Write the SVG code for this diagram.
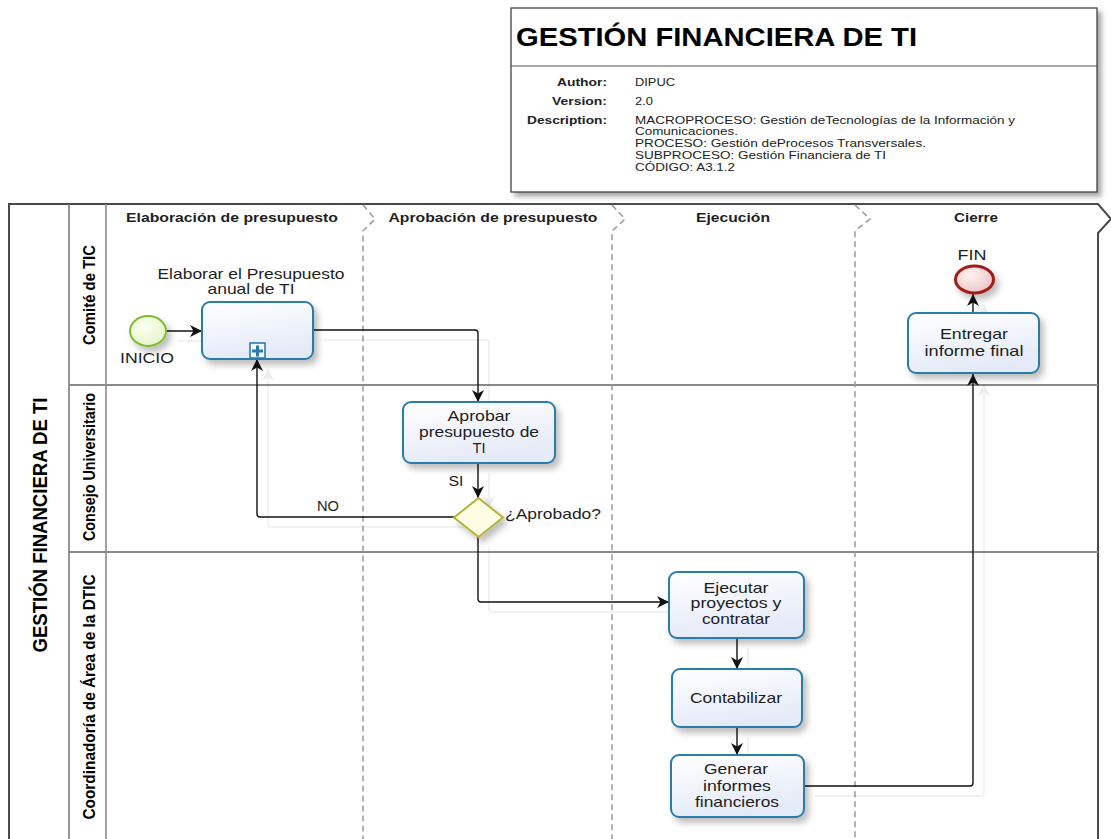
<svg xmlns="http://www.w3.org/2000/svg" xmlns:xlink="http://www.w3.org/1999/xlink" width="1111" height="839" viewBox="0 0 1111 839">
  <style>
    text { font-family: "Liberation Sans", Arial, sans-serif; fill: #1e1e1e; }
    .ttl { font-size: 26px; font-weight: bold; fill: #000; }
    .hk { font-size: 11px; font-weight: bold; fill: #222; text-anchor: end; }
    .hv { font-size: 10.5px; fill: #222; }
    .ph { font-size: 13px; font-weight: bold; text-anchor: middle; }
    .lane { font-size: 16.5px; font-weight: bold; text-anchor: middle; fill: #000; }
    .pool { font-size: 20px; font-weight: bold; text-anchor: middle; fill: #000; }
    .t { font-size: 14.5px; text-anchor: middle; }
    .task { fill: url(#taskFill); stroke: #2b7cab; stroke-width: 2; filter: url(#shadow); }
    .flow { fill: none; stroke: #111; stroke-width: 1.4; marker-end: url(#arrow); }
    .div { fill: none; stroke: #9a9a9a; stroke-width: 1.5; stroke-dasharray: 6 4; }
  </style>
  <defs>
    <linearGradient id="taskFill" x1="0" y1="0" x2="0.3" y2="1">
      <stop offset="0" stop-color="#ffffff"/>
      <stop offset="1" stop-color="#e4eaf8"/>
    </linearGradient>
    <radialGradient id="startFill" cx="0.4" cy="0.35" r="0.7">
      <stop offset="0" stop-color="#fbfff0"/>
      <stop offset="1" stop-color="#e6f3c8"/>
    </radialGradient>
    <radialGradient id="endFill" cx="0.4" cy="0.35" r="0.7">
      <stop offset="0" stop-color="#fdf3f3"/>
      <stop offset="1" stop-color="#efc2c2"/>
    </radialGradient>
    <filter id="shadow" x="-20%" y="-20%" width="150%" height="160%">
      <feDropShadow dx="4" dy="5" stdDeviation="3" flood-color="#000" flood-opacity="0.25"/>
    </filter>
    <filter id="boxShadow" x="-5%" y="-10%" width="115%" height="130%">
      <feDropShadow dx="4" dy="4" stdDeviation="2.5" flood-color="#000" flood-opacity="0.35"/>
    </filter>
    <marker id="arrow" markerUnits="userSpaceOnUse" markerWidth="13" markerHeight="12" refX="12" refY="6" orient="auto">
      <path d="M0,0 L12,6 L0,12 L3.5,6 z" fill="#111"/>
    </marker>
  </defs>

  <!-- document header -->
  <g id="header">
    <rect x="511" y="8" width="586" height="184" fill="#fff" stroke="#333" stroke-width="1.2" filter="url(#boxShadow)"/>
    <line x1="511" y1="66" x2="1097" y2="66" stroke="#555" stroke-width="1.2"/>
    <text class="ttl" x="516" y="46" textLength="401" lengthAdjust="spacingAndGlyphs">GESTIÓN FINANCIERA DE TI</text>
    <text class="hk" x="607" y="86" textLength="50" lengthAdjust="spacingAndGlyphs">Author:</text>
    <text class="hk" x="607" y="105" textLength="55" lengthAdjust="spacingAndGlyphs">Version:</text>
    <text class="hk" x="607" y="124" textLength="80" lengthAdjust="spacingAndGlyphs">Description:</text>
    <text class="hv" x="635" y="86" textLength="40" lengthAdjust="spacingAndGlyphs">DIPUC</text>
    <text class="hv" x="635" y="105" textLength="18" lengthAdjust="spacingAndGlyphs">2.0</text>
    <text class="hv" x="635" y="124" textLength="380" lengthAdjust="spacingAndGlyphs">MACROPROCESO: Gestión deTecnologías de la Información y</text>
    <text class="hv" x="635" y="135" textLength="103" lengthAdjust="spacingAndGlyphs">Comunicaciones.</text>
    <text class="hv" x="635" y="147" textLength="291" lengthAdjust="spacingAndGlyphs">PROCESO: Gestión deProcesos Transversales.</text>
    <text class="hv" x="635" y="159" textLength="251" lengthAdjust="spacingAndGlyphs">SUBPROCESO: Gestión Financiera de TI</text>
    <text class="hv" x="635" y="171" textLength="100" lengthAdjust="spacingAndGlyphs">CÓDIGO: A3.1.2</text>
  </g>

  <!-- pool, lanes and phases -->
  <g id="pool">
    <path d="M9,839 V204 H1098 L1111,219 L1098,233 V839" fill="none" stroke="#4a4a4a" stroke-width="2"/>
    <line x1="69" y1="204" x2="69" y2="839" stroke="#7a7a7a" stroke-width="1.6"/>
    <line x1="106" y1="204" x2="106" y2="839" stroke="#8a8a8a" stroke-width="1.6"/>
    <line x1="69" y1="385" x2="1098" y2="385" stroke="#8a8a8a" stroke-width="2"/>
    <line x1="69" y1="552" x2="1098" y2="552" stroke="#8a8a8a" stroke-width="2"/>
    <text class="pool" transform="translate(47,525) rotate(-90)" textLength="255" lengthAdjust="spacingAndGlyphs">GESTIÓN FINANCIERA DE TI</text>
  </g>
  <g id="lane-comite">
    <text class="lane" transform="translate(95,295) rotate(-90)" textLength="100" lengthAdjust="spacingAndGlyphs">Comité de TIC</text>
  </g>
  <g id="lane-consejo">
    <text class="lane" transform="translate(95,467) rotate(-90)" textLength="148" lengthAdjust="spacingAndGlyphs">Consejo Universitario</text>
  </g>
  <g id="lane-coordinadoria">
    <text class="lane" transform="translate(95,697) rotate(-90)" textLength="245" lengthAdjust="spacingAndGlyphs">Coordinadoría de Área de la DTIC</text>
  </g>
  <g id="phases">
    <path class="div" d="M363,205 L375,219 L363,231 V839"/>
    <path class="div" d="M612,205 L625,219 L612,231 V839"/>
    <path class="div" d="M855,205 L870,219 L855,231 V839"/>
    <text class="ph" x="232" y="222" textLength="212" lengthAdjust="spacingAndGlyphs">Elaboración de presupuesto</text>
    <text class="ph" x="493" y="222" textLength="209" lengthAdjust="spacingAndGlyphs">Aprobación de presupuesto</text>
    <text class="ph" x="733" y="222" textLength="74" lengthAdjust="spacingAndGlyphs">Ejecución</text>
    <text class="ph" x="976" y="222" textLength="44" lengthAdjust="spacingAndGlyphs">Cierre</text>
  </g>

  <!-- sequence flows -->
  <g id="connectors">
    <use xlink:href="#flows" href="#flows" transform="translate(11,10)" opacity="0.07"/>
    <g id="flows">
      <path class="flow" d="M167,331 H202"/>
      <path class="flow" d="M313,330 H475 Q478,330 478,333 V402"/>
      <path class="flow" d="M478,463 V498"/>
      <path class="flow" d="M454,517 H260 Q257,517 257,514 V359"/>
      <path class="flow" d="M478,537 V599 Q478,602 481,602 H669"/>
      <path class="flow" d="M737,638 V669"/>
      <path class="flow" d="M737,727 V755"/>
      <path class="flow" d="M804,786 H970 Q973,786 973,783 V374"/>
      <path class="flow" d="M973,313 V294"/>
    </g>
    <text class="t" x="456" y="486" textLength="15" lengthAdjust="spacingAndGlyphs">SI</text>
    <text class="t" x="328" y="511" textLength="22" lengthAdjust="spacingAndGlyphs">NO</text>
  </g>

  <!-- nodes -->
  <g id="inicio">
    <ellipse cx="148" cy="331" rx="18" ry="15" fill="url(#startFill)" stroke="#7cbb2e" stroke-width="2" filter="url(#shadow)"/>
    <text class="t" x="147" y="363" textLength="54" lengthAdjust="spacingAndGlyphs">INICIO</text>
  </g>

  <g id="elaborar-presupuesto">
    <rect class="task" x="202" y="302" width="111" height="57" rx="8"/>
    <rect x="250" y="343" width="15" height="15" fill="#f4f7fd" stroke="#2b7cab" stroke-width="1.6"/>
    <path d="M256,345.5 h3 v4 h4 v3 h-4 v4 h-3 v-4 h-4 v-3 h4 z" fill="#2b7cab"/>
    <text class="t" x="251" y="279" textLength="187" lengthAdjust="spacingAndGlyphs">Elaborar el Presupuesto</text>
    <text class="t" x="251" y="294" textLength="87" lengthAdjust="spacingAndGlyphs">anual de TI</text>
  </g>

  <g id="aprobar-presupuesto">
    <rect class="task" x="403" y="402" width="152" height="61" rx="8"/>
    <text class="t" x="479" y="421" textLength="63" lengthAdjust="spacingAndGlyphs">Aprobar</text>
    <text class="t" x="479" y="437" textLength="120" lengthAdjust="spacingAndGlyphs">presupuesto de</text>
    <text class="t" x="479" y="453" textLength="13" lengthAdjust="spacingAndGlyphs">TI</text>
  </g>

  <g id="aprobado">
    <path d="M478.5,498 L503,517.5 L478.5,537 L454,517.5 z" fill="#fdfde3" stroke="#b3b338" stroke-width="2" filter="url(#shadow)"/>
    <text class="t" x="553" y="519" textLength="96" lengthAdjust="spacingAndGlyphs">¿Aprobado?</text>
  </g>

  <g id="ejecutar-proyectos">
    <rect class="task" x="669" y="572" width="135" height="66" rx="8"/>
    <text class="t" x="736" y="593" textLength="65" lengthAdjust="spacingAndGlyphs">Ejecutar</text>
    <text class="t" x="736" y="608" textLength="91" lengthAdjust="spacingAndGlyphs">proyectos y</text>
    <text class="t" x="736" y="624" textLength="68" lengthAdjust="spacingAndGlyphs">contratar</text>
  </g>

  <g id="contabilizar">
    <rect class="task" x="672" y="669" width="130" height="58" rx="8"/>
    <text class="t" x="736" y="703" textLength="92" lengthAdjust="spacingAndGlyphs">Contabilizar</text>
  </g>

  <g id="generar-informes">
    <rect class="task" x="671" y="755" width="133" height="62" rx="8"/>
    <text class="t" x="736" y="774" textLength="64" lengthAdjust="spacingAndGlyphs">Generar</text>
    <text class="t" x="737" y="791" textLength="68" lengthAdjust="spacingAndGlyphs">informes</text>
    <text class="t" x="737" y="807" textLength="84" lengthAdjust="spacingAndGlyphs">financieros</text>
  </g>

  <g id="entregar-informe">
    <rect class="task" x="908" y="313" width="131" height="60" rx="8"/>
    <text class="t" x="974" y="339" textLength="68" lengthAdjust="spacingAndGlyphs">Entregar</text>
    <text class="t" x="974" y="356" textLength="99" lengthAdjust="spacingAndGlyphs">informe final</text>
  </g>

  <g id="fin">
    <ellipse cx="974.5" cy="279.5" rx="19" ry="13.5" fill="url(#endFill)" stroke="#a31d1d" stroke-width="3" filter="url(#shadow)"/>
    <text class="t" x="972" y="260" textLength="29" lengthAdjust="spacingAndGlyphs">FIN</text>
  </g>
</svg>
